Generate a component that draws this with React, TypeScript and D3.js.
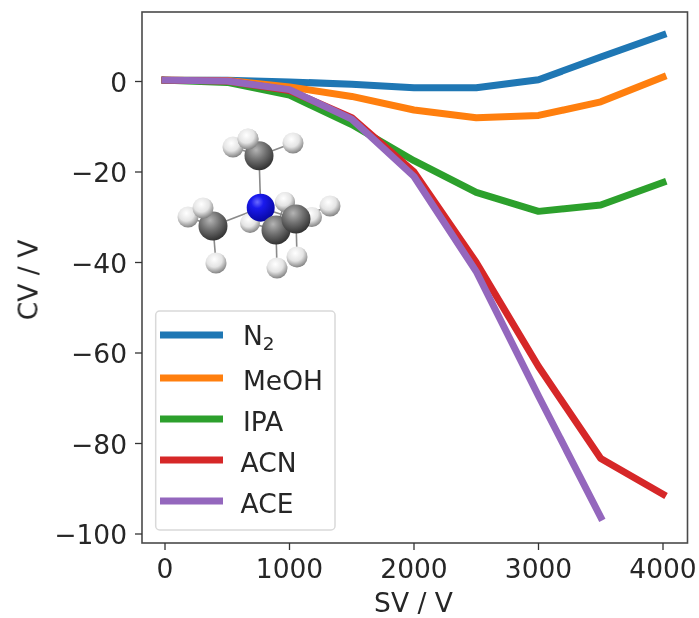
import React from "react";
import * as d3 from "d3";

const sv = [0, 500, 1000, 1500, 2000, 2500, 3000, 3500, 4000];
const n2 = [0.3, 0.3, -0.1, -0.6, -1.4, -1.4, 0.4, 5.4, 10.3];
const meoh = [0.3, 0.2, -1.2, -3.3, -6.3, -8, -7.5, -4.5, 1];
const ipa = [0.3, -0.2, -3, -9.5, -17.5, -24.5, -28.7, -27.3, -22.3];
const acn = [0.3, 0.1, -2, -8, -20, -40, -63, -83.3, -91.2];
const ace = [0.3, 0.1, -1.8, -8.3, -21, -42, -69.5, -96.3];

const seriesNames = ["N2", "MeOH", "IPA", "ACN", "ACE"];
const seriesValues = [n2, meoh, ipa, acn, ace];
const colors = ["#1f77b4", "#ff7f0e", "#2ca02c", "#d62728", "#9467bd"];
const xTicks = [0, 1000, 2000, 3000, 4000];
const yTicks = [0, -20, -40, -60, -80, -100];

// Molecule inset (picture coordinates of the pasted image)
const atomN = [[260.7, 207.7]];
const atomsC = [[259, 155.7], [213, 226], [276, 230], [296, 219]];
const atomsHBack = [[250, 223], [285, 202], [312, 217]];
const atomsHFront = [[233, 147], [248, 139], [293, 143], [188, 217], [203, 208], [216, 263], [330, 206], [277, 268], [297, 257]];
const bonds = [
  [260.7, 207.7, 259, 155.7], [260.7, 207.7, 213, 226], [260.7, 207.7, 276, 230], [260.7, 207.7, 296, 219],
  [259, 155.7, 233, 147], [259, 155.7, 248, 139], [259, 155.7, 293, 143],
  [213, 226, 188, 217], [213, 226, 203, 208], [213, 226, 216, 263],
  [276, 230, 250, 223], [276, 230, 285, 202], [276, 230, 277, 268],
  [296, 219, 312, 217], [296, 219, 330, 206], [296, 219, 297, 257],
];

const L = 142, R = 687.5, T = 12, B = 543;
const x = d3.scaleLinear().domain([0, 4000]).range([165, 663]);
const y = d3.scaleLinear().domain([0, -100]).range([81.5, 534]);
const font = "'DejaVu Sans', sans-serif";
const fs = 26.5;
const textColor = "#262626";

const legendLineY = [335, 378, 419, 460, 501];
const legendTextY = [345, 390, 431, 472, 513];

function Ball({ p, r, fill }: { p: number[]; r: number; fill: string }) {
  return <circle cx={p[0]} cy={p[1]} r={r} fill={`url(#${fill})`} />;
}

export default function App() {
  const line = d3.line<number>().x((_, i) => x(sv[i])).y((d) => y(d));
  return (
    <svg width={699} height={618} style={{ position: "absolute", left: 0, top: 0 }} fontFamily={font}>
      <defs>
        <radialGradient id="gc" cx="0.4" cy="0.3" r="0.75">
          <stop offset="0" stopColor="#b4b4b4" />
          <stop offset="0.45" stopColor="#727272" />
          <stop offset="1" stopColor="#2a2a2a" />
        </radialGradient>
        <radialGradient id="gh" cx="0.42" cy="0.32" r="0.75">
          <stop offset="0" stopColor="#ffffff" />
          <stop offset="0.5" stopColor="#e4e4e4" />
          <stop offset="1" stopColor="#6e6e6e" />
        </radialGradient>
        <radialGradient id="gn" cx="0.38" cy="0.3" r="0.75">
          <stop offset="0" stopColor="#6a6aff" />
          <stop offset="0.3" stopColor="#1a1aee" />
          <stop offset="1" stopColor="#05059a" />
        </radialGradient>
      </defs>
      <rect width={699} height={618} fill="#fff" />
      <g style={{ filter: "blur(0.45px)" }}>
        {seriesValues.map((vals, i) => (
          <path key={seriesNames[i]} d={line(vals) ?? ""} fill="none" stroke={colors[i]} strokeWidth={7} strokeLinejoin="round" strokeLinecap="square" />
        ))}

        {bonds.map((b, i) => (
          <line key={i} x1={b[0]} y1={b[1]} x2={b[2]} y2={b[3]} stroke="#8a8a8a" strokeWidth={1.6} />
        ))}
        {atomsHBack.map((p, i) => <Ball key={i} p={p} r={10} fill="gh" />)}
        {atomsHFront.slice(0, 3).map((p, i) => <Ball key={i} p={p} r={10.5} fill="gh" />)}
        <Ball p={atomsC[0]} r={14.5} fill="gc" />
        {atomsHFront.slice(1, 2).map((p, i) => <Ball key={i} p={p} r={10.5} fill="gh" />)}
        {atomsHFront.slice(3, 4).map((p, i) => <Ball key={i} p={p} r={10.5} fill="gh" />)}
        <Ball p={atomsC[1]} r={14.5} fill="gc" />
        {atomsHFront.slice(4).map((p, i) => <Ball key={i} p={p} r={10.5} fill="gh" />)}
        <Ball p={atomN[0]} r={14} fill="gn" />
        <Ball p={atomsHBack[1]} r={10} fill="gh" />
        <Ball p={atomsC[2]} r={14.5} fill="gc" />
        <Ball p={atomsC[3]} r={14.5} fill="gc" />

        <rect x={155.7} y={311} width={179.3} height={219} rx={4} fill="#fff" fillOpacity={0.8} stroke="#d9d9d9" strokeWidth={1.5} />
        {seriesNames.map((n, i) => (
          <g key={n}>
            <line x1={163.5} x2={219.5} y1={legendLineY[i]} y2={legendLineY[i]} stroke={colors[i]} strokeWidth={7} strokeLinecap="square" />
            <text x={n === "ACN" || n === "ACE" ? 240.5 : 243} y={legendTextY[i]} fontSize={fs} fill={textColor}>
              {n === "N2" ? <>N<tspan fontSize={18.5} dy={5}>2</tspan></> : n}
            </text>
          </g>
        ))}

        <rect x={L} y={T} width={R - L} height={B - T} fill="none" stroke="#4a4a4a" strokeWidth={1.6} />
        {xTicks.map((t) => (
          <g key={t}>
            <line x1={x(t)} x2={x(t)} y1={B} y2={B + 7} stroke="#333" strokeWidth={1.3} />
            <text x={x(t)} y={578} textAnchor="middle" fontSize={fs} fill={textColor}>{t}</text>
          </g>
        ))}
        {yTicks.map((t) => (
          <g key={t}>
            <line x1={L - 7} x2={L} y1={y(t)} y2={y(t)} stroke="#333" strokeWidth={1.3} />
            <text x={L - 15} y={y(t) + 10} textAnchor="end" fontSize={fs} fill={textColor}>
              {t < 0 ? `\u2212${-t}` : t}
            </text>
          </g>
        ))}
        <text x={413.5} y={612} textAnchor="middle" fontSize={fs} fill={textColor}>SV / V</text>
        <text transform="translate(37.5,280) rotate(-90)" textAnchor="middle" fontSize={fs} fill={textColor}>CV / V</text>
      </g>
    </svg>
  );
}
